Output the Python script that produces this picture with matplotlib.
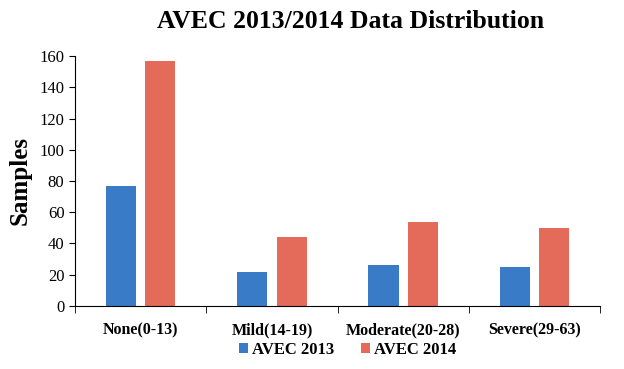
import numpy as np
import matplotlib
matplotlib.use("Agg")
import matplotlib.pyplot as plt

categories = ["None(0-13)", "Mild(14-19)", "Moderate(20-28)", "Severe(29-63)"]
avec_2013 = [77, 22, 26, 25]
avec_2014 = [157, 44, 54, 50]

plt.rcParams['font.family'] = ['Liberation Serif', 'DejaVu Serif']

fig = plt.figure(figsize=(6.24, 3.69), dpi=100)
ax = fig.add_axes([0.120, 0.171, 0.842, 0.677])

x = np.arange(len(categories))
w = 0.23
ax.bar(x - 0.15, avec_2013, w, color='#3A7BC8', label='AVEC 2013')
ax.bar(x + 0.15, avec_2014, w, color='#E46A59', label='AVEC 2014')

ax.set_xlim(-0.5, len(categories) - 0.5)
ax.set_ylim(0, 160)
ax.set_yticks(range(0, 161, 20))
ax.tick_params(axis='y', labelsize=12, direction='out', length=4)

ax.set_xticks(x)
ax.set_xticklabels(categories, fontweight='bold', fontsize=11.5)
ax.tick_params(axis='x', length=0, pad=12)
ax.set_xticks(np.arange(-0.5, len(categories), 1), minor=True)
ax.tick_params(axis='x', which='minor', length=5, direction='out')

for s in ['top', 'right']:
    ax.spines[s].set_visible(False)

ax.set_ylabel('Samples', fontsize=18, fontweight='bold', labelpad=6)
fig.suptitle('AVEC 2013/2014 Data Distribution', fontsize=18.5, fontweight='bold',
             x=0.561, y=0.972)

fig.legend(loc='lower center', bbox_to_anchor=(0.557, -0.01), ncol=2, frameon=False,
           prop={'weight': 'bold', 'size': 12}, handlelength=0.55, handleheight=0.55,
           handletextpad=0.25, columnspacing=1.6)

fig.savefig('out.png', dpi=100)
